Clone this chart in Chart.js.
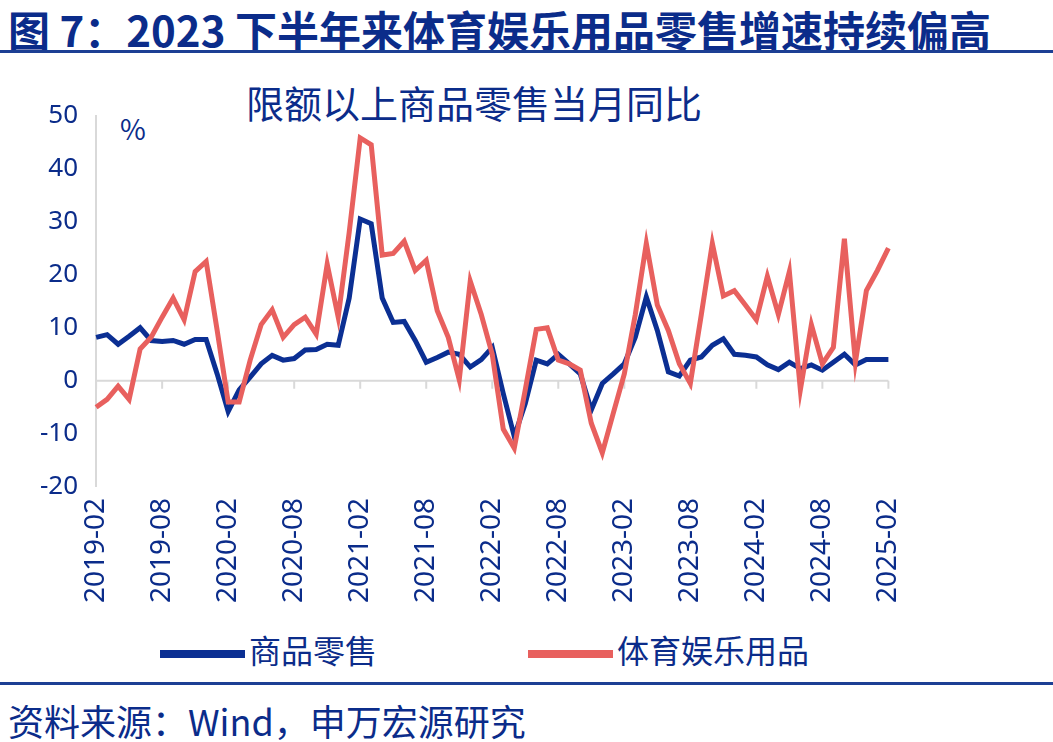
<!DOCTYPE html>
<html><head><meta charset="utf-8">
<script src="https://cdn.jsdelivr.net/npm/chart.js@4/dist/chart.umd.min.js"></script>
<style>
body{margin:0;width:1053px;height:742px;background:#fff;font-family:"Noto Sans CJK SC","Noto Sans",sans-serif;position:relative;overflow:hidden}
#title{position:absolute;left:8px;top:-2px;font-size:42px;font-weight:bold;color:#0B2C8A}
.rule{position:absolute;left:0;width:1053px;height:3px;background:#1C3F94}
#sub{position:absolute;left:246px;top:74px;font-size:38px;color:#0B2C8A}
#pct{position:absolute;left:120px;top:108px;font-size:28px;color:#0B2C8A}
#wrap{position:absolute;left:0;top:90px;width:925px;height:530px}
.lg{position:absolute;top:626px;font-size:32px;color:#0B2C8A}
.lg span{display:inline-block;width:85px;height:8px;vertical-align:middle;margin-right:4px}
#src{position:absolute;left:8px;top:694px;font-size:36px;color:#0B2C8A}
</style></head><body>
<div id="title">图 7：2023 下半年来体育娱乐用品零售增速持续偏高</div>
<div class="rule" style="top:50px"></div>
<div id="sub">限额以上商品零售当月同比</div>
<div id="pct">%</div>
<div id="wrap"><canvas id="c"></canvas></div>
<div class="lg" style="left:160px"><span style="background:#0B2F93"></span>商品零售</div>
<div class="lg" style="left:528px"><span style="background:#E8605E"></span>体育娱乐用品</div>
<div class="rule" style="top:682px"></div>
<div id="src">资料来源：Wind，申万宏源研究</div>
<script>
// months 2019-02 .. 2025-02
const labels = [];
for (let y = 2019, m = 2; y < 2025 || m <= 2; ) {
    labels.push(y + "-" + String(m).padStart(2, "0"));
    m++;
    if (m > 12) { m = 1; y++; }
}

const retail = [8.2,8.7,6.9,8.4,10,7.6,7.4,7.6,6.9,7.8,7.8,1.3,
    -5.8,-1.7,0.7,3.2,4.8,3.9,4.2,5.8,5.9,6.9,6.7,15.6,
    30.5,29.6,15.6,11,11.2,7.6,3.5,4.4,5.4,5,2.6,4,
    6.3,-2.4,-10.5,-4.3,3.9,3.2,5,3.2,1.3,-5.5,-0.5,1.3,
    3.2,8.2,15.8,9.5,1.7,0.9,3.9,4.5,6.7,7.9,5,4.8,
    4.5,3,2.1,3.5,2.3,3,2,3.5,5,3,4,4,4];

const sports = [-5,-3.5,-1,-3.5,6,8.2,12,15.6,11.5,20.6,22.5,9.5,
    -4,-4,3.9,10.6,13.4,8.2,10.6,12,8.8,22,12,28,
    45.8,44.5,23.7,24,26.3,20.8,22.7,13.2,8.2,0.2,18.8,12.5,
    5,-9.1,-12.7,-1.7,9.7,10,3.9,3.2,2,-8,-13.6,-6.1,
    1.3,12.5,25.9,14.3,9.5,3.2,-0.5,12.5,25.9,16,17,14.3,
    11.5,19.7,12.5,20.6,-1.7,10.6,3.2,6.3,26.8,3.5,17,20.8,25];

const navy = "#0B2C8A";

// zero line with half-year tick marks
const zeroAxis = {
    id: "zeroAxis",
    beforeDatasetsDraw(chart) {
        const ctx = chart.ctx, xs = chart.scales.x, ys = chart.scales.y;
        const y0 = ys.getPixelForValue(0);
        ctx.save();
        ctx.strokeStyle = "#d9d9d9";
        ctx.lineWidth = 2;
        ctx.beginPath();
        ctx.moveTo(chart.chartArea.left, y0);
        ctx.lineTo(chart.chartArea.right, y0);
        for (let i = 0; i < labels.length; i += 6) {
            const x = xs.getPixelForValue(i);
            ctx.moveTo(x, y0);
            ctx.lineTo(x, y0 + 8);
        }
        ctx.stroke();
        ctx.restore();
    }
};

new Chart(document.getElementById("c"), {
    type: "line",
    data: {
        labels: labels,
        datasets: [
            { label: "体育娱乐用品", data: sports, borderColor: "#E8605E", borderWidth: 5, pointRadius: 0, tension: 0 },
            { label: "商品零售", data: retail, borderColor: "#0B2F93", borderWidth: 5, pointRadius: 0, tension: 0 }
        ]
    },
    options: {
        responsive: true,
        maintainAspectRatio: false,
        animation: false,
        layout: { padding: { top: 5, left: 30, right: 11, bottom: 14 } },
        plugins: { legend: { display: false }, tooltip: { enabled: false } },
        scales: {
            x: {
                offset: false,
                grid: { display: false },
                border: { display: false },
                ticks: {
                    autoSkip: false, maxRotation: 90, minRotation: 90,
                    color: navy, font: { size: 28, family: "Noto Sans" },
                    callback: function (v, i) { return i % 6 === 0 ? labels[i] : ""; }
                }
            },
            y: {
                min: -20, max: 50,
                grid: { display: false },
                border: { color: "#d9d9d9", width: 2 },
                ticks: { stepSize: 10, color: navy, font: { size: 26, family: "Noto Sans" }, padding: 10 }
            }
        }
    },
    plugins: [zeroAxis]
});
</script>
</body></html>
